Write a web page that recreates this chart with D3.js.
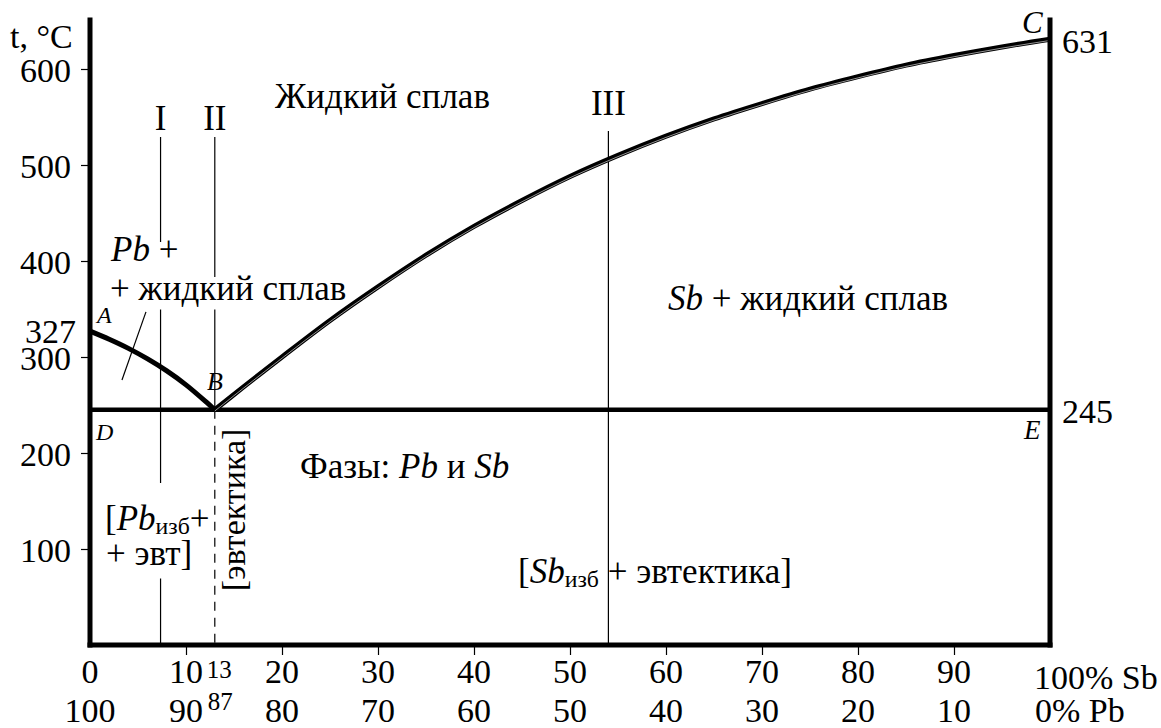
<!DOCTYPE html>
<html><head><meta charset="utf-8">
<script src="https://cdn.jsdelivr.net/npm/d3@7"></script>
<style>
body{margin:0;background:#fff}
svg{display:block}
</style>
</head><body>
<svg id="chart" width="1161" height="728"></svg>
<script>
// Composition axis (% Sb) and temperature axis (°C)
const sbTicks = [10, 20, 30, 40, 50, 60, 70, 80, 90];
const sbLabels = ["0", "10", "20", "30", "40", "50", "60", "70", "80", "90"];
const sbLabelValues = [0, 10, 20, 30, 40, 50, 60, 70, 80, 90];
const pbLabels = ["100", "90", "80", "70", "60", "50", "40", "30", "20", "10"];
const tempTicks = [100, 200, 300, 400, 500, 600];

// Key points of the Pb–Sb system
const meltPb = 327, meltSb = 631, eutecticT = 245, eutecticX = 13;

// Liquidus A–B (primary Pb)
const liqPbX = [0, 2, 4, 6, 8, 10, 12, 13];
const liqPbT = [327, 318.5, 309, 298, 285.5, 271, 254, 245];
// Liquidus B–C (primary Sb)
const liqSbX = [13, 15, 20, 25, 30, 35, 40, 45, 50, 55, 60, 65, 70, 75, 80, 85, 90, 95, 100];
const liqSbT = [245, 261, 300, 338, 373, 406, 436, 463, 488, 510, 530, 548, 564, 579, 592, 604, 614, 623, 631];

// Alloys I, II, III (% Sb)
const alloyNames = ["I", "II", "III"];
const alloyX = [7.35, 13, 54];

const FONT = '"Liberation Serif"';
const BLACK = "#000";
const NUM = 34;   // numeric labels
const TXT = 35;   // field labels

const svg = d3.select("#chart");
const x = d3.scaleLinear().domain([0, 100]).range([90, 1050]);
const y = d3.scaleLinear().domain([0, 600]).range([645, 69]);
const tTop = 651;

// ---- thin guide lines for alloys ----
const guides = svg.append("g").attr("stroke", BLACK).attr("stroke-width", 1.2).attr("fill", "none");
guides.append("line").attr("x1", x(alloyX[0])).attr("x2", x(alloyX[0])).attr("y1", 137).attr("y2", y(0));
guides.append("line").attr("x1", x(alloyX[1])).attr("x2", x(alloyX[1])).attr("y1", 137).attr("y2", y(eutecticT));
guides.append("line").attr("x1", x(alloyX[1])).attr("x2", x(alloyX[1])).attr("y1", y(eutecticT)).attr("y2", y(0))
  .attr("stroke-dasharray", "9,7");
guides.append("line").attr("x1", x(alloyX[2])).attr("x2", x(alloyX[2])).attr("y1", 131).attr("y2", y(0));

// leader from the "Pb + liquid" label into its field
guides.append("line")
  .attr("x1", x(5.83)).attr("y1", y(347))
  .attr("x2", x(3.33)).attr("y2", y(276));

// white knockouts sit just above the guide lines, below curves and text
const knockLayer = svg.append("g");

// ---- text helper (supports italic and subscript parts) ----
function label(px, py, parts, size, opts = {}) {
  const t = svg.append("text")
    .attr("x", px).attr("y", py)
    .style("font-family", FONT)
    .attr("font-size", size)
    .attr("text-anchor", opts.anchor || "start")
    .attr("fill", BLACK);
  if (opts.rotate) t.attr("transform", `rotate(${opts.rotate},${px},${py})`);
  let shifted = 0;
  parts.forEach(p => {
    const [s, style] = Array.isArray(p) ? p : [p, ""];
    const ts = t.append("tspan").text(s).style("font-family", FONT);
    if (style.includes("i")) ts.attr("font-style", "italic");
    if (style.includes("sub")) {
      ts.attr("font-size", size * 0.68).attr("dy", 4 - shifted);
      shifted = 4;
    } else if (shifted) {
      ts.attr("dy", -shifted);
      shifted = 0;
    }
  });
  return t;
}

// break the guide lines around a label
function knockout(t, padTop, padBottom, padX) {
  const b = t.node().getBBox();
  knockLayer.append("rect")
    .attr("x", b.x - padX).attr("y", b.y - padTop)
    .attr("width", b.width + 2 * padX).attr("height", b.height + padTop + padBottom)
    .attr("fill", "#fff");
}

// ---- curves ----
const line = d3.line().x(d => x(d[0])).y(d => y(d[1])).curve(d3.curveMonotoneX);
const pbPts = liqPbX.map((v, i) => [v, liqPbT[i]]);
const sbPts = liqSbX.map((v, i) => [v, liqSbT[i]]);

// solidus (eutectic horizontal D–E)
svg.append("line")
  .attr("x1", x(0)).attr("x2", x(100)).attr("y1", y(eutecticT)).attr("y2", y(eutecticT))
  .attr("stroke", BLACK).attr("stroke-width", 4.5);

svg.append("path").attr("d", line(pbPts)).attr("fill", "none")
  .attr("stroke", BLACK).attr("stroke-width", 5);
svg.append("path").attr("d", line(sbPts)).attr("fill", "none")
  .attr("stroke", BLACK).attr("stroke-width", 5);
svg.append("path").attr("d", line(sbPts)).attr("fill", "none")
  .attr("stroke", "#bbb").attr("stroke-width", 0.8).attr("transform", "translate(0,1.2)");

// ---- frame ----
const frame = svg.append("g").attr("stroke", BLACK).attr("stroke-width", 5).attr("stroke-linecap", "square");
frame.append("line").attr("x1", x(0)).attr("x2", x(0)).attr("y1", y(tTop)).attr("y2", y(0));
frame.append("line").attr("x1", x(100)).attr("x2", x(100)).attr("y1", y(tTop)).attr("y2", y(0));
frame.append("line").attr("x1", x(0)).attr("x2", x(100)).attr("y1", y(0)).attr("y2", y(0));

// ---- axes ----
const yAxis = svg.append("g").attr("transform", `translate(${x(0)},0)`)
  .call(d3.axisLeft(y).tickValues(tempTicks).tickSize(9).tickPadding(10).tickFormat(d3.format("d")));
yAxis.select(".domain").remove();
yAxis.attr("font-family", null);
yAxis.selectAll(".tick line").attr("stroke-width", 1.2);
yAxis.selectAll(".tick text").style("font-family", FONT).attr("font-size", NUM).attr("dy", "0.38em").attr("fill", BLACK);

const xAxis = svg.append("g").attr("transform", `translate(0,${y(0)})`)
  .call(d3.axisBottom(x).tickValues(sbTicks).tickSize(10).tickFormat(""));
xAxis.select(".domain").remove();
xAxis.selectAll(".tick line").attr("stroke-width", 1.2);

sbLabelValues.forEach((v, i) => {
  label(x(v), 683, [sbLabels[i]], NUM, { anchor: "middle" });
  label(x(v), 722, [pbLabels[i]], NUM, { anchor: "middle" });
});
label(x(eutecticX) - 8, 678, [String(eutecticX)], 25);
label(x(eutecticX) - 7, 710, [String(100 - eutecticX)], 25);
label(1034, 689, ["100% Sb"], NUM);
label(1035, 722, ["0% Pb"], NUM);

label(10, 48, ["t, °C"], NUM);
label(76, 343, [String(meltPb)], NUM, { anchor: "end" });
label(1062, 53, [String(meltSb)], NUM);
label(1062, 423, [String(eutecticT)], NUM);

// point letters
label(97, 323, [["A", "i"]], 24);
label(207, 390, [["B", "i"]], 26);
label(1022, 33, [["C", "i"]], 31);
label(96, 440, [["D", "i"]], 24);
label(1024, 439, [["E", "i"]], 27);

// alloy numbers
label(x(alloyX[0]), 130, [alloyNames[0]], TXT, { anchor: "middle" });
label(x(alloyX[1]), 130, [alloyNames[1]], TXT, { anchor: "middle" });
label(x(alloyX[2]), 115, [alloyNames[2]], TXT, { anchor: "middle" });

// field labels
label(275, 108, ["Жидкий сплав"], TXT);
const pb1 = label(111, 261, [["Pb", "i"], " +"], TXT);
knockout(pb1, -12, 9, 2);
const pb2 = label(110, 300, ["+ жидкий сплав"], TXT);
knockout(pb2, -8, 1.5, 2);
label(668, 310, [["Sb", "i"], " + жидкий сплав"], TXT);
label(300, 478, ["Фазы: ", ["Pb", "i"], " и ", ["Sb", "i"]], TXT);

const st1 = label(105, 530, ["[", ["Pb", "i"], ["изб", "sub"], "+"], TXT);
knockout(st1, 16, 0, 2);
const st2 = label(106, 565, ["+ эвт]"], TXT);
knockout(st2, 0, 5.5, 2);
label(245, 510, ["[эвтектика]"], 34, { anchor: "middle", rotate: -90 });
label(518, 583, ["[", ["Sb", "i"], ["изб", "sub"], " + эвтектика]"], TXT);
</script>
</body></html>
